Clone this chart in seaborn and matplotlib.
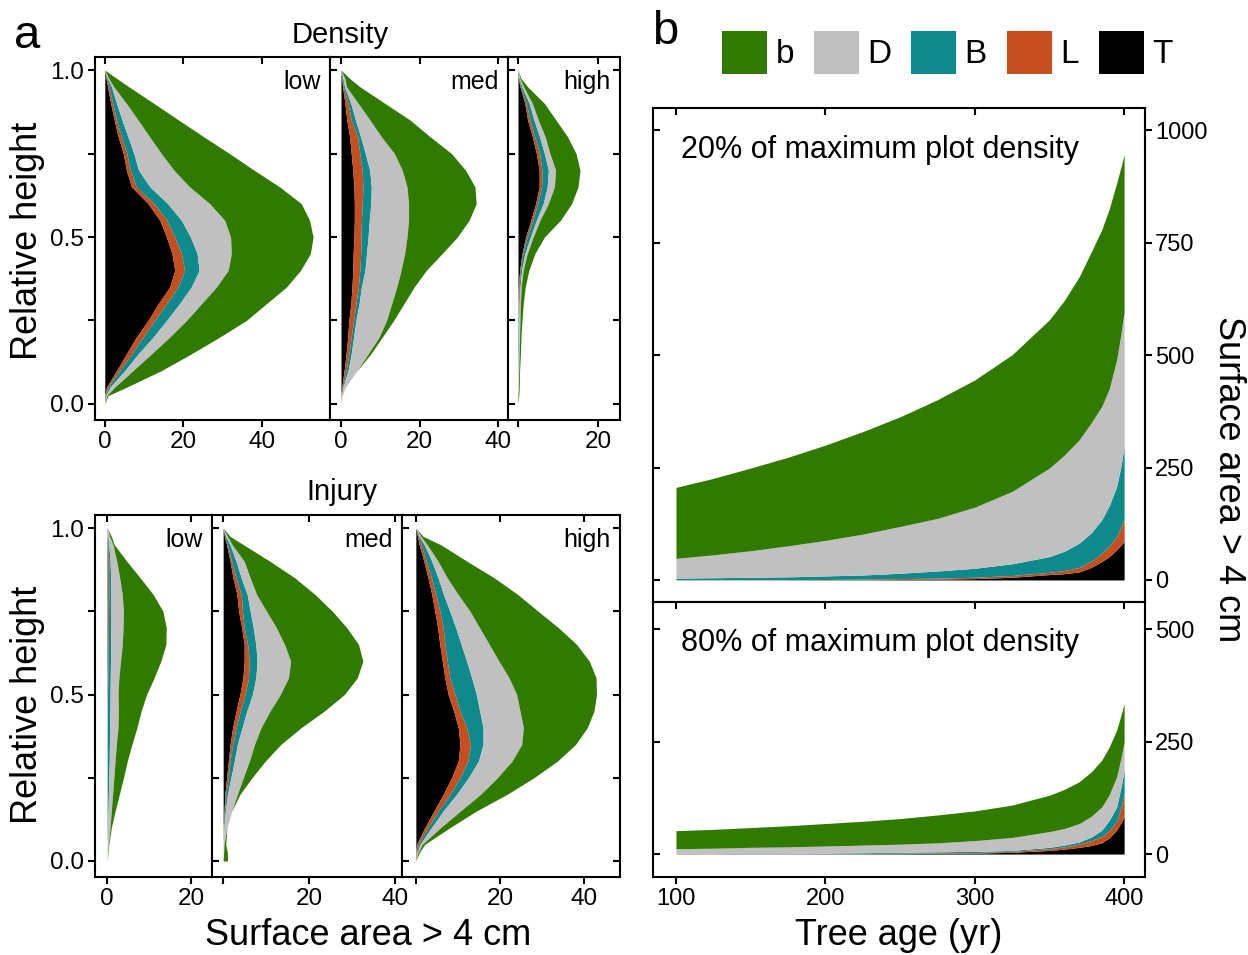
import numpy as np
import matplotlib
matplotlib.use('Agg')
import matplotlib.pyplot as plt
import seaborn as sns
from matplotlib.patches import Patch

sns.set_style('ticks')
plt.rcParams['font.family'] = ['Liberation Sans', 'DejaVu Sans']
plt.rcParams.update({'text.color': 'black', 'axes.labelcolor': 'black',
                     'xtick.color': 'black', 'ytick.color': 'black',
                     'axes.edgecolor': 'black'})

# layer colours, bottom (stem) to top (branches)
layer_names = ['T', 'L', 'B', 'D', 'b']
layer_colors = ['#000000', '#c54f1f', '#0e8a8c', '#c0c0c0', '#317a00']

# ---- panel a: vertical profiles, stacked (cumulative) edges T, +L, +B, +D, +b
heights = [0, .025, .05, .1, .15, .2, .25, .3, .35, .4, .45, .5, .55, .6,
           .65, .7, .75, .8, .85, .9, .95, .975, 1.0]

dens_low = [
    [0, 0, 0.4, 3.0, 5.5, 8.0, 11.0, 13.6, 16.5, 17.8, 17.1, 15.7, 14.0, 11.0, 6.8, 5.5, 4.7, 3.4, 2.4, 1.5, 0.7, 0.3, 0],
    [0, 0.2, 0.8, 3.8, 6.8, 9.7, 12.7, 15.7, 18.6, 20.3, 19.5, 17.8, 15.8, 12.5, 8.0, 6.5, 5.6, 4.2, 3.0, 2.0, 1.1, 0.5, 0],
    [0, 0.3, 1.3, 5.1, 8.5, 12.3, 15.7, 19.0, 22.0, 24.0, 23.5, 21.8, 19.5, 16.0, 11.5, 8.6, 7.4, 5.9, 4.4, 3.0, 1.7, 0.7, 0],
    [0, 0.5, 2.5, 7.2, 11.9, 16.5, 20.8, 24.6, 28.4, 31.4, 32.2, 32.0, 30.5, 26.7, 21.6, 17.6, 14.4, 11.4, 8.5, 5.5, 2.3, 1.0, 0],
    [0, 0.8, 5.5, 14.4, 22.0, 29.2, 36.0, 41.1, 46.2, 49.8, 52.3, 53.0, 52.1, 50.0, 44.5, 38.0, 31.7, 25.2, 18.8, 12.5, 6.1, 3.0, 0],
]
dens_med = [
    [0, 0, 0.2, 0.8, 1.3, 1.7, 2.0, 2.5, 2.8, 3.0, 3.1, 3.3, 3.4, 3.4, 3.3, 3.0, 2.6, 2.2, 1.5, 1.0, 0.4, 0.2, 0],
    [0, 0.1, 0.4, 1.3, 2.0, 2.6, 3.2, 3.8, 4.4, 4.8, 5.0, 5.1, 5.2, 5.4, 5.6, 5.4, 4.8, 4.2, 2.6, 1.8, 0.6, 0.3, 0],
    [0, 0.1, 0.5, 1.8, 2.6, 3.2, 3.8, 4.6, 5.2, 6.1, 6.5, 6.9, 7.2, 7.6, 7.7, 7.3, 6.2, 5.0, 3.7, 2.5, 0.9, 0.5, 0],
    [0, 0.3, 1.1, 4.1, 6.9, 9.7, 11.6, 12.9, 14.2, 15.3, 16.2, 16.8, 17.2, 17.2, 16.8, 15.6, 13.6, 10.3, 7.4, 4.4, 1.4, 1.0, 0],
    [0, 0.3, 1.1, 4.1, 7.6, 10.5, 13.4, 16.0, 18.6, 21.7, 25.7, 29.6, 32.6, 34.4, 34.1, 31.7, 28.1, 22.7, 17.6, 11.2, 4.8, 2.2, 0],
]
dens_high = [
    [0, 0, 0, 0, 0, 0, 0, 0, 0.1, 0.4, 1.0, 1.9, 3.2, 4.4, 5.3, 5.3, 4.6, 3.6, 2.4, 1.7, 0.5, 0.1, 0],
    [0, 0, 0, 0, 0, 0, 0, 0.2, 0.3, 0.6, 1.2, 2.3, 3.7, 4.9, 5.9, 6.0, 5.4, 4.2, 3.0, 2.1, 0.7, 0.2, 0],
    [0, 0, 0, 0.05, 0.1, 0.15, 0.2, 0.3, 0.5, 0.9, 1.7, 3.1, 4.6, 6.3, 7.3, 7.6, 6.6, 5.4, 4.0, 2.8, 1.0, 0.3, 0],
    [0, 0, 0.1, 0.2, 0.3, 0.4, 0.5, 0.6, 0.8, 1.3, 2.3, 3.8, 5.5, 7.6, 9.1, 9.4, 8.0, 6.8, 5.1, 3.6, 1.4, 0.5, 0],
    [0, 0.2, 0.3, 0.4, 0.6, 0.75, 1.0, 1.3, 1.8, 2.7, 4.2, 6.6, 10.6, 13.4, 15.0, 15.5, 14.5, 12.4, 9.5, 6.6, 2.4, 0.75, 0],
]
inj_low = [
    [0, 0, 0, 0, 0, 0, 0, 0, 0, 0, 0, 0.05, 0.05, 0.1, 0.1, 0.1, 0.15, 0.2, 0.2, 0.2, 0.1, 0.05, 0],
    [0, 0, 0, 0, 0, 0, 0, 0, 0, 0, 0.05, 0.1, 0.15, 0.2, 0.25, 0.3, 0.35, 0.4, 0.4, 0.4, 0.2, 0.1, 0],
    [0, 0, 0, 0.1, 0.2, 0.3, 0.4, 0.5, 0.55, 0.6, 0.65, 0.7, 0.75, 0.8, 0.85, 0.9, 0.9, 0.9, 0.85, 0.7, 0.4, 0.2, 0],
    [0, 0.1, 0.3, 0.7, 1.0, 1.3, 1.6, 1.9, 2.2, 2.6, 2.7, 2.6, 2.8, 3.2, 3.6, 3.8, 3.9, 3.6, 3.0, 2.3, 1.4, 0.6, 0],
    [0, 0.2, 0.4, 1.0, 1.9, 2.9, 3.9, 4.8, 5.9, 7.1, 8.1, 9.4, 11.2, 12.8, 14.0, 14.1, 13.3, 11.0, 7.9, 4.7, 1.7, 1.0, 0],
]
inj_med = [
    [0, 0, 0, 0, 0.2, 0.4, 0.8, 1.2, 1.6, 2.2, 3.0, 3.9, 4.6, 4.9, 4.9, 4.3, 3.6, 3.2, 2.3, 1.6, 0.8, 0.3, 0],
    [0, 0, 0, 0.1, 0.3, 0.6, 1.2, 1.6, 2.2, 3.0, 4.0, 5.1, 5.9, 6.1, 5.7, 4.9, 4.5, 4.2, 3.0, 2.0, 1.0, 0.4, 0],
    [0, 0, 0, 0.2, 0.5, 1.0, 1.8, 2.6, 3.3, 4.4, 5.5, 6.8, 7.6, 7.9, 7.6, 7.0, 6.3, 5.6, 4.2, 3.0, 1.6, 0.6, 0],
    [0, 0.1, 0.2, 0.9, 2.0, 3.3, 4.7, 6.1, 7.3, 8.8, 10.9, 13.3, 15.2, 15.7, 14.3, 12.4, 10.1, 7.8, 6.3, 4.9, 2.1, 1.0, 0],
    [1.0, 1.0, 0.6, 0.9, 2.0, 3.9, 6.7, 9.8, 13.4, 18.1, 23.5, 28.2, 31.2, 32.5, 31.5, 28.8, 25.4, 21.4, 16.7, 10.9, 4.7, 1.6, 0],
]
inj_high = [
    [0, 0, 0.2, 2.1, 4.3, 6.5, 8.5, 10.1, 10.5, 10.1, 9.0, 7.7, 6.9, 6.3, 5.7, 5.2, 4.5, 3.8, 2.9, 1.9, 0.8, 0.4, 0],
    [0, 0.2, 0.6, 2.9, 5.3, 8.1, 10.5, 12.4, 13.0, 12.1, 10.5, 9.3, 8.1, 7.5, 6.9, 6.5, 5.7, 4.8, 3.7, 2.5, 1.3, 0.6, 0],
    [0, 0.3, 1.0, 3.7, 6.5, 9.7, 12.5, 14.9, 16.0, 16.0, 15.2, 14.4, 13.3, 12.1, 10.8, 9.5, 8.1, 6.6, 5.3, 3.8, 2.0, 0.8, 0],
    [0, 0.5, 1.5, 5.9, 10.6, 15.4, 19.4, 22.9, 25.2, 25.6, 24.8, 24.0, 22.2, 19.8, 17.5, 15.2, 12.9, 10.1, 7.5, 5.3, 2.7, 1.2, 0],
    [0, 0.8, 2.1, 8.1, 14.4, 21.7, 28.1, 33.7, 38.0, 40.8, 42.4, 43.0, 42.9, 41.3, 38.3, 34.0, 29.1, 24.3, 18.7, 12.2, 5.9, 1.7, 0],
]

# ---- panel b: surface area vs tree age, stacked (cumulative) tops T, +L, +B, +D, +b
ages = [100, 125, 150, 175, 200, 225, 250, 275, 300, 325, 350, 360, 370, 378,
        385, 390, 395, 398, 400]
d20 = [
    [0, 0, 0, 0.3, 0.5, 0.7, 1, 2, 3, 6, 12, 14, 18, 28, 41, 52, 67, 78, 85],
    [0.5, 0.5, 0.7, 0.8, 1, 2, 3, 4, 6, 10, 17, 21, 28, 42, 59, 75, 96, 118, 137],
    [4, 5, 6, 7, 9, 11, 15, 20, 26, 36, 52, 64, 82, 105, 134, 165, 208, 255, 297],
    [48, 56, 65, 76, 88, 102, 119, 137, 162, 197, 249, 278, 312, 350, 386, 425, 490, 550, 597],
    [206, 226, 249, 273, 300, 330, 363, 401, 445, 501, 579, 622, 675, 730, 779, 825, 883, 920, 946],
]
d80 = [
    [0, 0, 0, 0.2, 0.5, 0.7, 1, 1.5, 2, 4, 8, 11, 15, 19, 25, 36, 53, 70, 83],
    [0.5, 0.5, 0.5, 0.7, 1, 1.5, 2, 3, 3.5, 6, 12, 16, 22, 30, 39, 52, 72, 105, 135],
    [1, 1, 1.5, 1.5, 2, 3, 4, 5, 6, 8, 15, 20, 27, 38, 53, 75, 105, 150, 187],
    [12, 13, 15, 16, 18, 20, 22, 25, 30, 37, 50, 57, 68, 84, 105, 132, 172, 215, 250],
    [52, 55, 59, 63, 68, 73, 79, 87, 96, 109, 131, 144, 161, 183, 209, 238, 276, 310, 335],
]

fig = plt.figure(figsize=(12.48, 9.55), dpi=100)
TS = 17.5
LW = 1.5


def profile(ax, edges):
    prev = np.zeros(len(heights))
    for edge, col in zip(edges, layer_colors):
        ax.fill_betweenx(heights, prev, edge, color=col, lw=0)
        prev = np.array(edge)


def style_a(ax, i, xlim, xticks, xlabels, tag):
    ax.set_xlim(*xlim)
    ax.set_ylim(-0.048, 1.039)
    ax.set_yticks([0, .25, .5, .75, 1.0])
    ax.set_yticklabels(['0.0', '', '0.5', '', '1.0'])
    ax.set_xticks(xticks)
    ax.set_xticklabels(xlabels)
    ax.tick_params(axis='y', direction='out' if i == 0 else 'in', left=True,
                   right=(i == 2), labelleft=(i == 0), length=5, width=LW,
                   labelsize=TS, pad=3)
    ax.tick_params(axis='x', direction='out', length=5, width=LW, labelsize=TS, pad=3)
    top = ax.secondary_xaxis('top')
    top.set_xticks(xticks)
    top.tick_params(direction='in', labeltop=False, length=5, width=LW)
    for s in top.spines.values():
        s.set_visible(False)
    for s in ax.spines.values():
        s.set_linewidth(LW)
    ax.annotate(tag, xy=(1, 1), xycoords='axes fraction', xytext=(-7, -9),
                textcoords='offset points', ha='right', va='top', fontsize=18)


gs_top = fig.add_gridspec(1, 3, left=0.0761, right=0.4968, bottom=0.5602, top=0.9403,
                          width_ratios=[235, 178, 112], wspace=0)
gs_bot = fig.add_gridspec(1, 3, left=0.0761, right=0.4968, bottom=0.0817, top=0.4607,
                          width_ratios=[117, 190, 218], wspace=0)

top_cfg = [(dens_low, (-2.5, 57.3), [0, 20, 40], ['0', '20', '40'], 'low'),
           (dens_med, (-2.8, 42.5), [0, 20, 40], ['0', '20', '40'], 'med'),
           (dens_high, (-2.5, 25.5), [0, 20], ['', '20'], 'high')]
bot_cfg = [(inj_low, (-2.9, 25.0), [0, 20], ['0', '20'], 'low'),
           (inj_med, (-2.6, 41.6), [0, 20, 40], ['', '20', '40'], 'med'),
           (inj_high, (-3.3, 48.6), [0, 20, 40], ['', '20', '40'], 'high')]

for gs, cfg in [(gs_top, top_cfg), (gs_bot, bot_cfg)]:
    for i, (edges, xl, xt, xtl, tag) in enumerate(cfg):
        ax = fig.add_subplot(gs[0, i])
        profile(ax, edges)
        style_a(ax, i, xl, xt, xtl, tag)

# ---- panel b
gs_b = fig.add_gridspec(2, 1, left=0.5232, right=0.9175, bottom=0.0817, top=0.8869,
                        height_ratios=[494, 275], hspace=0)
b_cfg = [(d20, (-49, 1050), [0, 250, 500, 750, 1000], '20% of maximum plot density', 0.915),
         (d80, (-51, 561), [0, 250, 500], '80% of maximum plot density', 0.852)]
for j, (tops, yl, yt, txt, ty) in enumerate(b_cfg):
    ax = fig.add_subplot(gs_b[j, 0])
    prev = np.zeros(len(ages))
    for top_edge, col in zip(tops, layer_colors):
        ax.fill_between(ages, prev, top_edge, color=col, lw=0)
        prev = np.array(top_edge)
    ax.set_xlim(84.6, 414)
    ax.set_ylim(*yl)
    ax.set_yticks(yt)
    ax.set_xticks([100, 200, 300, 400])
    ax.yaxis.tick_right()
    ax.tick_params(axis='y', direction='out', right=True, left=False, labelright=True,
                   length=5, width=LW, labelsize=17, pad=2)
    ax.tick_params(axis='x', direction='out', length=5, width=LW, labelsize=17,
                   bottom=(j == 1), labelbottom=(j == 1), pad=3)
    lft = ax.secondary_yaxis('left')
    lft.set_yticks(yt)
    lft.tick_params(direction='in', labelleft=False, length=5, width=LW)
    tp = ax.secondary_xaxis('top')
    tp.set_xticks([100, 200, 300, 400])
    tp.tick_params(direction='in', labeltop=False, length=5, width=LW)
    for sec in (lft, tp):
        for s in sec.spines.values():
            s.set_visible(False)
    for s in ax.spines.values():
        s.set_linewidth(LW)
    ax.text(0.057, ty, txt, transform=ax.transAxes, ha='left', va='center', fontsize=22)

handles = [Patch(facecolor=c, edgecolor='none') for c in layer_colors[::-1]]
fig.legend(handles, layer_names[::-1], loc='center', bbox_to_anchor=(0.759, 0.945),
           ncol=5, frameon=False, fontsize=24, handlelength=1.35, handleheight=1.6,
           handletextpad=0.25, columnspacing=0.6, borderaxespad=0)

# shared labels and titles
fig.text(0.0224, 0.748, 'Relative height', rotation=90, ha='center', va='center', fontsize=26)
fig.text(0.0224, 0.262, 'Relative height', rotation=90, ha='center', va='center', fontsize=26)
fig.text(0.295, 0.020, 'Surface area > 4 cm', ha='center', va='center', fontsize=26)
fig.text(0.720, 0.020, 'Tree age (yr)', ha='center', va='center', fontsize=26)
fig.text(0.984, 0.498, 'Surface area > 4 cm', rotation=270, ha='center', va='center', fontsize=26)
fig.text(0.2724, 0.9634, 'Density', ha='center', va='center', fontsize=21)
fig.text(0.274, 0.4848, 'Injury', ha='center', va='center', fontsize=21)
fig.text(0.0216, 0.962, 'a', ha='center', va='center', fontsize=34)
fig.text(0.533, 0.9665, 'b', ha='center', va='center', fontsize=34)

fig.savefig('out.png', dpi=100)
